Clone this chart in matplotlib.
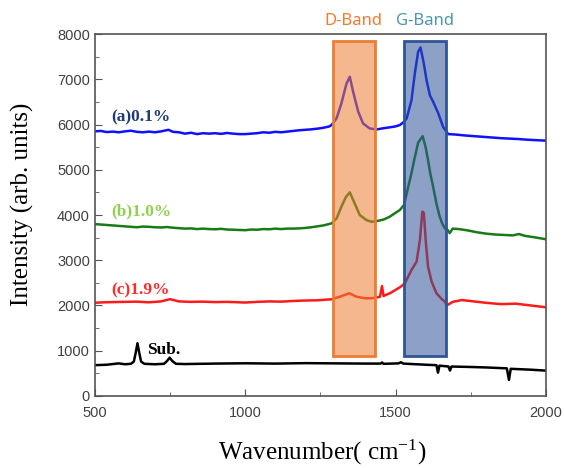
import matplotlib

matplotlib.use("Agg")
import matplotlib.pyplot as plt
from matplotlib.patches import Rectangle
from matplotlib.colors import to_rgba

plt.rcParams["mathtext.fontset"] = "custom"
plt.rcParams["mathtext.rm"] = "Liberation Serif"
plt.rcParams["mathtext.it"] = "Liberation Serif:italic"

# Raman spectra (wavenumber cm-1, intensity a.u.)
wn_a = [500, 520, 540, 560, 580, 600, 620, 640, 660, 680, 700, 720, 745, 760,
        780, 800, 820, 840, 860, 880, 900, 920, 940, 960, 980, 1000, 1020, 1040,
        1060, 1080, 1100, 1120, 1140, 1160, 1180, 1200, 1220, 1240, 1260, 1280,
        1287, 1304, 1320, 1337, 1348, 1359, 1376, 1392, 1414, 1437, 1460, 1481,
        1500, 1514, 1528, 1537, 1553, 1564, 1575, 1583, 1594, 1603, 1614, 1625,
        1642, 1658, 1675, 1700, 1730, 1760, 1790, 1820, 1850, 1880, 1910, 1940,
        1970, 2000]
int_a = [5850, 5860, 5835, 5845, 5830, 5850, 5865, 5840, 5830, 5845, 5830, 5850,
         5885, 5840, 5830, 5800, 5820, 5790, 5810, 5800, 5810, 5795, 5815, 5800,
         5790, 5790, 5800, 5810, 5830, 5820, 5840, 5830, 5845, 5860, 5875, 5885,
         5895, 5910, 5930, 5960, 5990, 6140, 6470, 6910, 7057, 6725, 6283, 6026,
         5915, 5893, 5920, 5940, 5960, 5990, 6060, 6137, 6540, 7130, 7610, 7705,
         7350, 6985, 6650, 6505, 6250, 5950, 5790, 5780, 5760, 5745, 5730, 5715,
         5700, 5690, 5680, 5665, 5655, 5645]

wn_b = [500, 520, 540, 560, 580, 600, 620, 640, 660, 680, 700, 720, 740, 760,
        780, 800, 820, 840, 860, 880, 900, 920, 940, 960, 980, 1000, 1020, 1040,
        1060, 1080, 1100, 1120, 1140, 1160, 1180, 1200, 1220, 1240, 1260, 1287,
        1304, 1320, 1335, 1348, 1364, 1381, 1403, 1420, 1440, 1460, 1480, 1500,
        1514, 1528, 1542, 1552, 1562, 1575, 1590, 1600, 1608, 1616, 1625, 1636,
        1647, 1656, 1664, 1672, 1680, 1690, 1710, 1740, 1770, 1800, 1830, 1860,
        1890, 1910, 1930, 1960, 2000]
int_b = [3800, 3790, 3780, 3770, 3760, 3750, 3740, 3730, 3745, 3740, 3730, 3725,
         3735, 3720, 3710, 3700, 3705, 3690, 3700, 3690, 3685, 3695, 3680, 3675,
         3670, 3665, 3680, 3675, 3690, 3685, 3700, 3690, 3700, 3700, 3705, 3715,
         3730, 3750, 3770, 3815, 3925, 4185, 4400, 4500, 4260, 4000, 3890, 3850,
         3870, 3900, 3960, 4050, 4110, 4220, 4620, 4900, 5215, 5600, 5745, 5500,
         5215, 4900, 4625, 4250, 3960, 3800, 3705, 3680, 3600, 3700, 3690, 3660,
         3620, 3590, 3570, 3560, 3550, 3580, 3540, 3510, 3465]

wn_c = [500, 530, 560, 600, 640, 680, 720, 750, 780, 820, 860, 900, 940, 980,
        1000, 1040, 1080, 1120, 1160, 1200, 1240, 1287, 1315, 1346, 1370, 1398,
        1420, 1448, 1455, 1460, 1481, 1514, 1531, 1553, 1570, 1581, 1589, 1594,
        1601, 1608, 1620, 1636, 1653, 1664, 1670, 1690, 1720, 1760, 1800, 1850,
        1900, 1950, 2000]
int_c = [2060, 2070, 2075, 2080, 2085, 2070, 2090, 2140, 2090, 2080, 2085, 2075,
         2080, 2070, 2065, 2080, 2090, 2085, 2100, 2110, 2115, 2137, 2195, 2270,
         2195, 2160, 2160, 2190, 2430, 2210, 2270, 2400, 2490, 2785, 2970, 3450,
         4075, 4050, 3375, 2860, 2525, 2270, 2145, 2085, 2000, 2080, 2120, 2090,
         2060, 2030, 2040, 2000, 1960]

wn_sub = [500, 540, 580, 600, 620, 630, 636, 642, 648, 654, 665, 700, 730, 740,
          749, 758, 770, 800, 900, 1000, 1100, 1200, 1300, 1400, 1450, 1455, 1460,
          1510, 1518, 1526, 1600, 1636, 1641, 1646, 1676, 1681, 1686, 1750, 1800,
          1870, 1877, 1883, 1950, 2000]
int_sub = [680, 690, 720, 700, 710, 760, 950, 1165, 950, 760, 710, 700, 710, 770,
           846, 770, 710, 705, 715, 722, 715, 725, 720, 715, 715, 740, 710, 720,
           745, 715, 690, 680, 515, 670, 650, 560, 650, 640, 630, 610, 354, 600,
           580, 560]

# Highlighted band ranges (wavenumber) and their vertical extent
d_band = (1291, 1431)
g_band = (1528, 1667)
band_y = (884, 7845)

fig = plt.figure(figsize=(5.64, 4.68), dpi=100)
ax = fig.add_axes([0.168, 0.154, 0.8, 0.773])

ax.plot(wn_a, int_a, color="#1010ff", linewidth=1.8, zorder=2)
ax.plot(wn_b, int_b, color="#187a18", linewidth=1.8, zorder=2)
ax.plot(wn_c, int_c, color="#ff1a1a", linewidth=1.8, zorder=2)
ax.plot(wn_sub, int_sub, color="black", linewidth=1.8, zorder=2)

for (x0, x1), col in [(d_band, "#ED7D31"), (g_band, "#2F5597")]:
    ax.add_patch(Rectangle((x0, band_y[0]), x1 - x0, band_y[1] - band_y[0],
                           facecolor=to_rgba(col, 0.55), edgecolor=col,
                           linewidth=2, zorder=3))

ax.text(sum(d_band) / 2, 8300, "D-Band", color="#ED7D31", fontsize=12,
        family="Noto Sans", ha="center", va="center", clip_on=False)
ax.text(sum(g_band) / 2, 8300, "G-Band", color="#4E97AB", fontsize=12,
        family="Noto Sans", ha="center", va="center", clip_on=False)

lab = dict(family="Liberation Serif", fontweight="bold", fontsize=12.5, va="center")
ax.text(556, 6150, "(a)0.1%", color="#203a7a", **lab)
ax.text(556, 4070, "(b)1.0%", color="#92D050", **lab)
ax.text(556, 2340, "(c)1.9%", color="#ff2a2a", **lab)
ax.text(673, 1010, "Sub.", color="black", **lab)

ax.set_xlim(500, 2000)
ax.set_ylim(0, 8000)
ax.set_xticks([500, 1000, 1500, 2000])
ax.set_xticks([750, 1250, 1750], minor=True)
ax.set_yticks(range(0, 8001, 1000))
ax.set_yticks(range(500, 8000, 1000), minor=True)
ax.tick_params(which="both", direction="in", labelsize=10.5, labelcolor="#404040",
               colors="#555555")
ax.tick_params(which="major", length=5)
ax.tick_params(which="minor", length=3)
ax.tick_params(axis="x", pad=7)
for lbl in ax.get_xticklabels() + ax.get_yticklabels():
    lbl.set_family("Liberation Sans")
for s in ax.spines.values():
    s.set_color("#555555")
    s.set_linewidth(1.2)

ax.set_xlabel("Wavenumber( cm$^{-1}$)", family="Liberation Serif", fontsize=18)
ax.set_ylabel("Intensity (arb. units)", family="Liberation Serif", fontsize=18)
ax.xaxis.set_label_coords(0.505, -0.115)
ax.yaxis.set_label_coords(-0.135, 0.53)

fig.savefig("out.png")
plt.close(fig)
